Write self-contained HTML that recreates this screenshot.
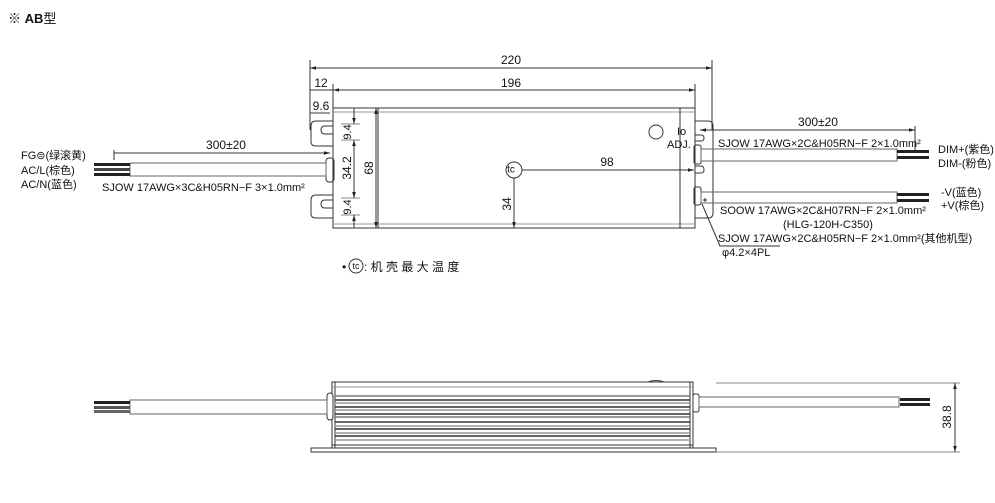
<!DOCTYPE html>
<html><head><meta charset="utf-8"><style>
html,body{margin:0;padding:0;background:#fff;}
svg{display:block;}
text{font-family:"Liberation Sans","Noto Sans CJK SC",sans-serif;fill:#111;}
</style></head><body>
<svg width="995" height="503" viewBox="0 0 995 503" xmlns="http://www.w3.org/2000/svg">
<defs>
<marker id="a" viewBox="0 0 10 10" refX="10" refY="5" markerWidth="6" markerHeight="6" orient="auto-start-reverse"><path d="M0,2 L10,5 L0,8 z" fill="#222"/></marker>
</defs>
<text x="8" y="23" font-size="13">※ <tspan font-weight="bold">AB</tspan>型</text>

<g stroke="#333" stroke-width="1" fill="none">
<!-- top dimension lines -->
<line x1="310" y1="60" x2="310" y2="130"/>
<line x1="712" y1="60" x2="712" y2="130"/>
<line x1="310" y1="68" x2="712" y2="68" marker-start="url(#a)" marker-end="url(#a)"/>
<line x1="333" y1="84" x2="333" y2="108"/>
<line x1="695" y1="84" x2="695" y2="108"/>
<line x1="333" y1="90" x2="695" y2="90" marker-start="url(#a)" marker-end="url(#a)"/>
<line x1="310" y1="90" x2="338" y2="90"/>
<line x1="310" y1="113" x2="330" y2="113"/>

<!-- body top view -->
<rect x="333" y="108" width="362" height="120"/>
<line x1="333" y1="112" x2="695" y2="112" stroke="#999"/>
<line x1="333" y1="224" x2="695" y2="224" stroke="#999"/>
<line x1="378" y1="108" x2="378" y2="228"/>
<line x1="680" y1="108" x2="680" y2="228"/>
<!-- left flange -->
<path d="M333,121 L316,121 Q311,121 311,126 L311,142 Q311,146 316,146 L333,146"/>
<path d="M333,195 L316,195 Q311,195 311,200 L311,214 Q311,218 316,218 L333,218"/>
<path d="M333,126 L325,126 Q321,126 321,130 Q321,134 325,134 L333,134"/>
<path d="M333,208 L325,208 Q321,208 321,204 Q321,200 325,200 L333,200"/>
<!-- right flange -->
<path d="M695,121 L708,121 Q713,121 713,126 L713,213 Q713,218 708,218 L695,218"/>
<path d="M695,135 L701,135 Q704,135 704,138 Q704,141 701,141 L695,141"/>
<path d="M695,166 L701,166 Q704,166 704,170 Q704,173 701,173 L695,173"/>
<!-- connectors -->
<rect x="326" y="158" width="8" height="24" rx="3"/>
<rect x="694" y="145" width="7" height="19" rx="2"/>
<rect x="694" y="187" width="7" height="18" rx="2"/>
<!-- cables top -->
<rect x="130" y="163" width="196" height="13" stroke="#666"/>
<rect x="701" y="149" width="196" height="12" stroke="#666"/>
<rect x="701" y="192" width="196" height="11" stroke="#666"/>
<!-- io adj circle -->
<circle cx="656" cy="132" r="7"/>
<!-- tc -->
<circle cx="514" cy="170" r="8"/>
<line x1="522" y1="170" x2="694" y2="170" marker-end="url(#a)"/>
<line x1="514" y1="178" x2="514" y2="228" marker-end="url(#a)"/>
<!-- vertical dims -->
<line x1="341" y1="124" x2="360" y2="124" stroke="#888"/>
<line x1="341" y1="140" x2="360" y2="140" stroke="#888"/>
<line x1="341" y1="198" x2="360" y2="198" stroke="#888"/>
<line x1="341" y1="215" x2="360" y2="215" stroke="#888"/>
<line x1="354" y1="108" x2="354" y2="124" marker-end="url(#a)"/>
<line x1="354" y1="140" x2="354" y2="198" marker-start="url(#a)" marker-end="url(#a)"/>
<line x1="354" y1="215" x2="354" y2="228" marker-start="url(#a)"/>
<line x1="376" y1="108" x2="376" y2="228" marker-start="url(#a)" marker-end="url(#a)"/>
<!-- 300 dims -->
<line x1="114" y1="150" x2="114" y2="160"/>
<line x1="114" y1="153" x2="330" y2="153" marker-end="url(#a)"/>
<line x1="915" y1="126" x2="915" y2="150"/>
<line x1="700" y1="130" x2="915" y2="130" marker-start="url(#a)" marker-end="url(#a)"/>
<!-- leader -->
<path d="M702,204 L720,246 L780,246"/>
<line x1="703" y1="200" x2="707" y2="200"/><line x1="705" y1="198" x2="705" y2="202"/>

<!-- bottom view -->
<rect x="332" y="382" width="361" height="66"/>
<line x1="335" y1="382" x2="335" y2="448"/>
<line x1="690" y1="382" x2="690" y2="448"/>
<rect x="311" y="448" width="405" height="4"/>
<path d="M648,382 Q656,379 664,382"/>
<line x1="332" y1="387" x2="693" y2="387" stroke="#999"/>
<line x1="332" y1="445" x2="693" y2="445"/>
</g>
<g stroke-width="1.4">
<line x1="335" y1="396" x2="690" y2="396" stroke="#777"/>
<line x1="335" y1="400" x2="690" y2="400" stroke="#333"/>
<line x1="335" y1="403" x2="690" y2="403" stroke="#999"/>
<line x1="335" y1="407" x2="690" y2="407" stroke="#333"/>
<line x1="335" y1="410" x2="690" y2="410" stroke="#999"/>
<line x1="335" y1="414" x2="690" y2="414" stroke="#333"/>
<line x1="335" y1="417" x2="690" y2="417" stroke="#777"/>
<line x1="335" y1="422" x2="690" y2="422" stroke="#333"/>
<line x1="335" y1="426" x2="690" y2="426" stroke="#999"/>
<line x1="335" y1="429" x2="690" y2="429" stroke="#333"/>
<line x1="335" y1="433" x2="690" y2="433" stroke="#999"/>
<line x1="335" y1="436" x2="690" y2="436" stroke="#333"/>
<line x1="335" y1="440" x2="690" y2="440" stroke="#999"/>
</g>
<g stroke="#333" fill="none">
<rect x="327" y="393" width="6" height="27" rx="3" fill="#fff"/>
<rect x="693" y="394" width="6" height="18" rx="2" fill="#fff"/>
<rect x="130" y="400" width="197" height="14" stroke="#666"/>
<rect x="699" y="397" width="200" height="10" stroke="#666"/>
<line x1="716" y1="383" x2="960" y2="383" stroke="#888"/>
<line x1="716" y1="452" x2="960" y2="452" stroke="#888"/>
<line x1="955" y1="383" x2="955" y2="452" marker-start="url(#a)" marker-end="url(#a)"/>
</g>
<!-- wires -->
<g fill="#222">
<rect x="94" y="163" width="36" height="3"/><rect x="94" y="168" width="36" height="3" fill="#444"/><rect x="94" y="173" width="36" height="3"/>
<rect x="897" y="150" width="32" height="3"/><rect x="897" y="156" width="32" height="3"/>
<rect x="897" y="193" width="32" height="3"/><rect x="897" y="199" width="32" height="3"/>
<rect x="94" y="401" width="36" height="3"/><rect x="94" y="406" width="36" height="3" fill="#555"/><rect x="94" y="410" width="36" height="3" fill="#666"/>
<rect x="900" y="398" width="30" height="3"/><rect x="900" y="403" width="30" height="3"/>
</g>

<!-- labels -->
<text x="511" y="64" font-size="12" text-anchor="middle">220</text>
<text x="511" y="87" font-size="12" text-anchor="middle">196</text>
<text x="321" y="87" font-size="12" text-anchor="middle">12</text>
<text x="321" y="110" font-size="12" text-anchor="middle">9.6</text>
<text x="226" y="149" font-size="12" text-anchor="middle">300±20</text>
<text x="818" y="126" font-size="12" text-anchor="middle">300±20</text>
<text x="607" y="166" font-size="12" text-anchor="middle">98</text>
<text x="511" y="170" font-size="10" text-anchor="middle" dominant-baseline="middle">tc</text>
<text transform="translate(351,132) rotate(-90)" font-size="11" text-anchor="middle">9.4</text>
<text transform="translate(351,168) rotate(-90)" font-size="12" text-anchor="middle">34.2</text>
<text transform="translate(351,207) rotate(-90)" font-size="11" text-anchor="middle">9.4</text>
<text transform="translate(373,168) rotate(-90)" font-size="12" text-anchor="middle">68</text>
<text transform="translate(511,204) rotate(-90)" font-size="12" text-anchor="middle">34</text>
<text transform="translate(951,417) rotate(-90)" font-size="12" text-anchor="middle">38.8</text>
<text x="677" y="135" font-size="11">Io</text>
<text x="667" y="148" font-size="11">ADJ.</text>
<text x="21" y="159" font-size="11">FG<tspan font-size="11">⊜</tspan>(绿滚黄)</text>
<text x="21" y="174" font-size="11">AC/L(棕色)</text>
<text x="21" y="188" font-size="11">AC/N(蓝色)</text>
<text x="102" y="191" font-size="11">SJOW 17AWG×3C&amp;H05RN−F  3×1.0mm²</text>
<text x="718" y="147" font-size="11">SJOW 17AWG×2C&amp;H05RN−F  2×1.0mm²</text>
<text x="938" y="153" font-size="11">DIM+(紫色)</text>
<text x="938" y="167" font-size="11">DIM-(粉色)</text>
<text x="941" y="196" font-size="11">-V(蓝色)</text>
<text x="941" y="209" font-size="11">+V(棕色)</text>
<text x="720" y="214" font-size="11">SOOW 17AWG×2C&amp;H07RN−F  2×1.0mm²</text>
<text x="783" y="228" font-size="11">(HLG-120H-C350)</text>
<text x="718" y="242" font-size="11">SJOW 17AWG×2C&amp;H05RN−F  2×1.0mm²(其他机型)</text>
<text x="722" y="256" font-size="11">φ4.2×4PL</text>
<text x="342" y="271" font-size="12">•</text>
<circle cx="356" cy="266" r="7" fill="none" stroke="#333"/>
<text x="356" y="269" font-size="9" text-anchor="middle">tc</text>
<text x="364" y="271" font-size="12">: 机 壳 最 大 温 度</text>
</svg>
</body></html>
